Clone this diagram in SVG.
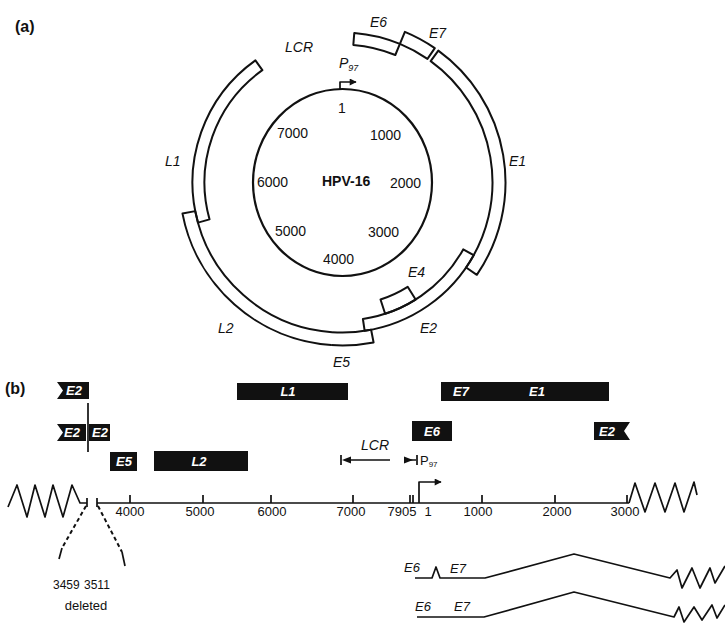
<svg xmlns="http://www.w3.org/2000/svg" width="725" height="627" viewBox="0 0 725 627">
<style>
.band{fill:none;stroke:#111;stroke-width:2;stroke-linejoin:round}
.t{font-family:"Liberation Sans",Arial,sans-serif;font-size:14px;fill:#111}
.it{font-style:italic}
.bd{font-weight:bold}
.n{font-family:"Liberation Sans",Arial,sans-serif;font-size:13px;fill:#111;text-anchor:middle}
.box{fill:#111}
.bt{font-family:"Liberation Sans",Arial,sans-serif;font-size:13px;font-weight:bold;font-style:italic;fill:#fff;text-anchor:middle}
.ln{fill:none;stroke:#111;stroke-width:1.7;stroke-linejoin:round}
.dash{fill:none;stroke:#111;stroke-width:2;stroke-dasharray:4 3}
</style>
<defs>
<marker id="ah" viewBox="0 0 10 10" refX="9" refY="5" markerWidth="8" markerHeight="7" orient="auto" markerUnits="userSpaceOnUse"><path d="M0,0 L10,5 L0,10 Z" fill="#111"/></marker>
</defs>
<rect width="725" height="627" fill="#fff"/>

<!-- Part (a) -->
<text class="t bd" x="15" y="32" style="font-size:16px">(a)</text>
<g id="genome-circle">
<ellipse cx="342.5" cy="182.5" rx="89.5" ry="93.5" fill="none" stroke="#111" stroke-width="2.2"/>
<text class="t bd" x="322" y="186">HPV-16</text>
<text class="t" x="342" y="113" text-anchor="middle">1</text>
<text class="t" x="277" y="138">7000</text>
<text class="t" x="370" y="140">1000</text>
<text class="t" x="257" y="187">6000</text>
<text class="t" x="390" y="188">2000</text>
<text class="t" x="275" y="236">5000</text>
<text class="t" x="368" y="237">3000</text>
<text class="t" x="323" y="264">4000</text>
</g>
<g id="E6-arc"><path class="band" d="M354.27,32.96 A150,150 0 0 1 399.90,43.92 L395.31,55.00 A138,138 0 0 0 353.33,44.93 Z"/><text class="t it" x="370" y="27">E6</text></g>
<g id="E7-arc"><path class="band" d="M404.88,31.91 A163,163 0 0 1 434.82,48.17 L427.46,58.88 A150,150 0 0 0 399.90,43.92 Z"/><text class="t it" x="429" y="38">E7</text></g>
<g id="E1-arc"><path class="band" d="M438.31,50.63 A163,163 0 0 1 476.83,274.82 L466.12,267.46 A150,150 0 0 0 430.67,61.15 Z"/><text class="t it" x="509" y="166">E1</text></g>
<g id="E2-arc"><path class="band" d="M473.69,255.22 A150,150 0 0 1 364.67,330.85 L362.90,318.98 A138,138 0 0 0 463.20,249.40 Z"/><text class="t it" x="420" y="333">E2</text></g>
<g id="E4-arc"><path class="band" d="M415.63,299.53 L407.68,286.81 A123,123 0 0 1 380.51,299.48 L385.14,313.75 A138,138 0 0 0 415.63,299.53 Z"/><text class="t it" x="408" y="277">E4</text></g>
<g id="E5-arc"><path class="band" d="M332.04,332.13 A150,150 0 0 0 371.12,329.74 L373.60,342.51 A163,163 0 0 1 331.13,345.10"/><text class="t it" x="333" y="367">E5</text></g>
<g id="L2-arc"><path class="band" d="M331.13,345.10 A163,163 0 0 1 182.49,213.60 L195.26,211.12 A150,150 0 0 0 332.04,332.13"/><text class="t it" x="218" y="333">L2</text></g>
<g id="L1-arc"><path class="band" d="M197.96,222.59 A150,150 0 0 1 255.39,60.38 L262.36,70.15 A138,138 0 0 0 209.52,219.38 Z"/><text class="t it" x="165" y="166">L1</text></g>
<g id="LCR-label"><text class="t it" x="285" y="52">LCR</text></g>
<g id="P97-a">
<text class="t it" x="339" y="68">P<tspan style="font-size:9px" dy="3">97</tspan></text>
<path class="ln" d="M340,89 V82 H356" stroke-width="1.4" marker-end="url(#ah)"/>
</g>

<!-- Part (b) -->
<text class="t bd" x="5" y="394" style="font-size:16px">(b)</text>
<g id="E2-b1"><polygon class="box" points="57,382 89,382 89,399 57,399 63,390.5"/><text class="bt" x="74" y="395">E2</text></g>
<g id="E2-b2"><polygon class="box" points="57,424 86,424 86,441 57,441 63,432.5"/><text class="bt" x="72" y="437">E2</text></g>
<g id="E2-b3"><polygon class="box" points="89,424 110,424 110,441 89,441"/><text class="bt" x="100" y="437">E2</text></g>
<g id="E5-b"><rect class="box" x="110" y="452" width="27" height="19"/><text class="bt" x="124" y="466">E5</text></g>
<g id="L2-b"><rect class="box" x="154" y="451" width="94" height="20"/><text class="bt" x="199" y="466">L2</text></g>
<g id="L1-b"><rect class="box" x="237" y="383" width="111" height="17"/><text class="bt" x="288" y="396">L1</text></g>
<g id="E7E1-b"><rect class="box" x="441" y="382" width="168" height="19"/><text class="bt" x="461" y="396">E7</text><text class="bt" x="537" y="396">E1</text></g>
<g id="E6-b"><rect class="box" x="412" y="421" width="40" height="20"/><text class="bt" x="432" y="436">E6</text></g>
<g id="E2-b4"><polygon class="box" points="594,422 630,422 624,431 630,440 594,440"/><text class="bt" x="607" y="436">E2</text></g>

<g id="LCR-b">
<text class="t it" x="361" y="450">LCR</text>
<path class="ln" d="M341,455 V465 M350,460 H390" stroke-width="1.3"/>
<polygon points="342,460 351,456.5 351,463.5" fill="#111"/>
<path class="ln" d="M404,460 H416 M417,455 V465" stroke-width="1.3"/>
<polygon points="404,456.5 413,460 404,463.5" fill="#111"/>
<text class="t" x="420" y="465" style="font-size:13px">P<tspan style="font-size:8px" dy="2">97</tspan></text>
</g>

<g id="connectors">
<polyline class="ln" points="8,507 17,485 27,517 35,485 45,517 53,485 63,517 72,485 80,503 87,503"/>
<path class="ln" d="M87,498 V507 M97,498 V507 M97,503 H629"/>
<path class="ln" d="M130,495 V503 M203,495 V503 M271,495 V503 M353,495 V503 M410,495 V503 M413,495 V503 M482,495 V503 M555,495 V503 M627,495 V503"/>
<polyline class="ln" points="629,503 635,483 645,512 655,483 665,512 675,483 684,512 694,482 697,495"/>
<path class="ln" d="M419,503 V482 H441" marker-end="url(#ah)"/>
<path class="ln" d="M88,403 V452" stroke-width="1.4"/>
<path class="dash" d="M86,506 L62,548"/>
<path class="ln" d="M62,548 L59,559" stroke-width="1.4"/>
<path class="dash" d="M98,506 L122,552"/>
<path class="ln" d="M122,552 L125,566" stroke-width="1.4"/>
<polyline class="ln" points="415,578 432,578 436,567 440,578 485,578 574,554 670,578 677,570 682,588 692,568 700,588 710,568 715,583 725,566"/>
<polyline class="ln" points="417,617 484,617 574,592 674,617 679,607 684,622 694,607 702,620 712,605 717,618 725,605"/>
</g>

<g id="axis-labels">
<text class="n" x="130" y="516">4000</text>
<text class="n" x="200" y="516">5000</text>
<text class="n" x="272" y="516">6000</text>
<text class="n" x="351" y="516">7000</text>
<text class="n" x="402" y="516">7905</text>
<text class="n" x="428" y="516">1</text>
<text class="n" x="478" y="516">1000</text>
<text class="n" x="557" y="516">2000</text>
<text class="n" x="625" y="516">3000</text>
<text class="n" x="53" y="589" style="text-anchor:start;font-size:12px">3459</text>
<text class="n" x="84" y="589" style="text-anchor:start;font-size:12px">3511</text>
<text class="n" x="86" y="610">deleted</text>
</g>
<g id="transcript-labels">
<text class="t it" x="404" y="572" style="font-size:13px">E6</text>
<text class="t it" x="450" y="573" style="font-size:13px">E7</text>
<text class="t it" x="415" y="611" style="font-size:13px">E6</text>
<text class="t it" x="454" y="611" style="font-size:13px">E7</text>
</g>
</svg>
